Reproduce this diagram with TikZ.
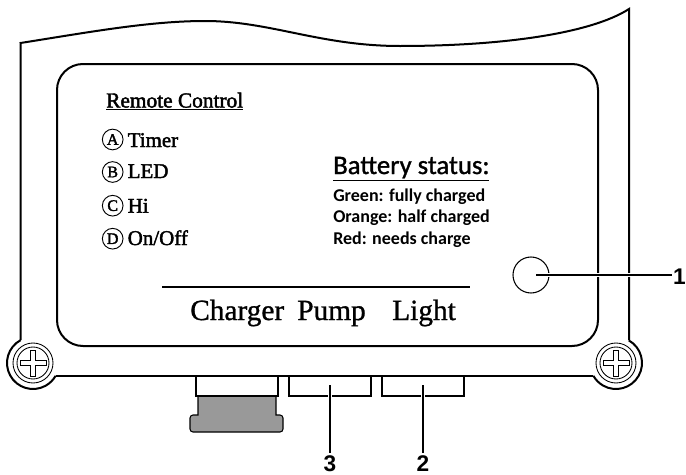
\documentclass[tikz,border=0pt]{standalone}
\usepackage{fontspec}
\setmainfont{Liberation Serif}
\newfontfamily\cali{Carlito Bold}
\newfontfamily\caliR{Carlito}[FakeBold=1.2]
\newfontfamily\arial{Liberation Sans Bold}
\newfontfamily\serifb{Liberation Serif}[FakeBold=2]
\newfontfamily\serifB{Liberation Serif}[FakeBold=1]
\tikzset{
  body/.style={draw=black,line width=1.5pt,line join=miter},
  serifl/.style={inner sep=0pt,anchor=base west,font=\serifb\fontsize{15.7}{16}\selectfont},
  badge/.style={circle,draw=black,line width=0.7pt,minimum size=15.5pt,inner sep=0pt,font=\serifb\fontsize{12}{12}\selectfont},
  battery/.style={inner sep=0pt,anchor=base west,font=\cali\fontsize{13.5}{14}\selectfont},
  callout/.style={inner sep=0pt,anchor=base,font=\arial\fontsize{17}{18}\selectfont},
  bigl/.style={inner sep=0pt,anchor=base west,font=\serifB\fontsize{22}{22}\selectfont},
  leader/.style={draw=black,line width=0.85pt},
  halo/.style={draw=white,line width=3.4pt},
}
\newcommand{\screw}[2]{%
  \draw[line width=0.65pt] (#1,#2) circle (20);
  \draw[line width=0.65pt] (#1,#2) circle (16);
  \draw[line width=0.65pt,fill=white] (#1-2.7,#2-13)--(#1+2.7,#2-13)--(#1+2.7,#2-2.7)--(#1+13,#2-2.7)--(#1+13,#2+2.7)--(#1+2.7,#2+2.7)--(#1+2.7,#2+13)--(#1-2.7,#2+13)--(#1-2.7,#2+2.7)--(#1-13,#2+2.7)--(#1-13,#2-2.7)--(#1-2.7,#2-2.7)--cycle;
}
\begin{document}
\begin{tikzpicture}[x=0.75pt,y=-0.75pt]
\useasboundingbox (0,0) rectangle (686,475);
\fill[white] (0,0) rectangle (686,475);
% housing outline
\draw[body] (33,363) ++(241.5:26) -- (20.5,43) .. controls (90,32) and (150,21) .. (205,21)
  .. controls (270,21) and (320,46) .. (400,46)
  .. controls (500,46) and (590,34) .. (629,9) -- (629,340);
% inner panel
\draw[body] (57,90) arc (180:270:26) -- (572,64) arc (270:360:26) -- (598,320) arc (0:90:26) -- (83,346) arc (90:180:26) -- cycle;
% bottom edge and lugs
\draw[line width=1.2pt] (56,376) -- (593,376);
\draw[body] (33,363) ++(241.5:26) arc (241.5:29.5:26);
\draw[body] (616,363) ++(-60.5:26) arc (-60.5:150.5:26);
\screw{33}{363}
\screw{616}{363}
% connectors
\draw[fill=black!40,line width=0.8pt] (198,396) -- (198,415) -- (193,415) arc (270:180:3) -- (190,429) arc (180:90:3) -- (280,432) arc (90:0:3) -- (283,418) arc (0:-90:3) -- (276,415) -- (276,396) -- cycle;
\draw[body] (196,376) -- (196,396) -- (278,396) -- (278,376);
\draw[body] (289,376) -- (289,396) -- (371,396) -- (371,376);
\draw[body] (382,376) -- (382,396) -- (464,396) -- (464,376);
% rule
\draw[line width=1.3pt] (162,287) -- (470,287);
% left text
\node[inner sep=0pt,anchor=base west,font=\serifb\fontsize{16}{16}\selectfont] (rc) at (106,107.5) {\underline{Remote Control}};
\node[badge] (ba) at (112.7,139.5) {A}; \node[serifl] (ta) at (127.5,147) {Timer};
\node[badge] (bb) at (112.7,172) {B}; \node[serifl] (tb) at (127.5,178) {LED};
\node[badge] (bc) at (112.7,205.7) {C}; \node[serifl] (tc) at (127.5,212.7) {Hi};
\node[badge] (bd) at (112.7,238.7) {D}; \node[serifl] (td) at (127.5,245) {On/Off};
% battery
\node[inner sep=0pt,anchor=base west,font=\caliR\fontsize{20}{20}\selectfont] (bs) at (333,174) {\underline{Battery status:}};
\node[battery] (g) at (333,201) {Green: fully charged};
\node[battery] (o) at (333,222.7) {Orange: half charged};
\node[battery] (r) at (333,244) {Red: needs charge};
% lamp
\node[circle,draw=black,line width=0.8pt,minimum size=27pt,inner sep=0pt] (lamp) at (531,275) {};
% big labels
\node[bigl] (c) at (190,320) {Charger};
\node[bigl] (p) at (297,320) {Pump};
\node[bigl] (l) at (392,320) {Light};
% callouts
\coordinate (l1s) at (536,275);
\coordinate (l1e) at (672,275);
\coordinate (l3s) at (330,385);
\coordinate (l2s) at (423,385);
\coordinate (l3e) at (330,453);
\coordinate (l2e) at (423,453);
\node[callout,anchor=base west] (n1) at (672.8,284.5) {1};
\node[callout] (n3) at (330,471.5) {3};
\node[callout] (n2) at (423,471.5) {2};
\draw[halo] (l1s) -- (l1e);
\draw[halo] (l3s) -- (l3e);
\draw[halo] (l2s) -- (l2e);
\draw[leader] (l1s) -- (l1e);
\draw[leader] (l3s) -- (l3e);
\draw[leader] (l2s) -- (l2e);
\end{tikzpicture}
\end{document}
